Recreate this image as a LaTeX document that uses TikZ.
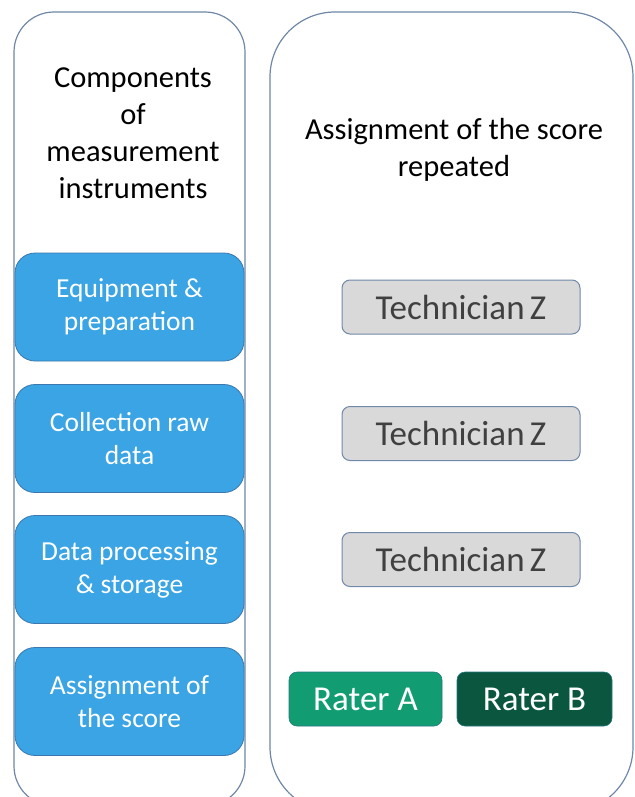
\documentclass[tikz,border=0pt]{standalone}
\usepackage{fontspec}
\setmainfont{Carlito}
\definecolor{framec}{RGB}{112,136,166}
\definecolor{blfill}{RGB}{58,164,228}
\definecolor{blline}{RGB}{60,120,175}
\definecolor{tfill}{RGB}{217,217,217}
\definecolor{tline}{RGB}{112,136,170}
\definecolor{ttext}{RGB}{64,64,64}
\definecolor{rafill}{RGB}{18,156,113}
\definecolor{rbfill}{RGB}{10,86,63}
\definecolor{raline}{RGB}{40,120,130}
\tikzset{
  container/.style={draw=framec, line width=1.2pt, fill=white, inner sep=0pt},
  titletext/.style={align=center, font=\fontsize{30.5}{37}\selectfont, text=black, inner sep=0pt},
  bluebox/.style={draw=blline, line width=0.8pt, fill=blfill, rounded corners=20pt,
    minimum width=229pt, minimum height=108pt, inner sep=0pt, align=center,
    text=white, font=\fontsize{27.5}{33}\selectfont},
  techbox/.style={draw=tline, line width=1pt, fill=tfill, rounded corners=8pt,
    minimum width=238pt, minimum height=54pt, inner sep=0pt,
    text=ttext, font=\fontsize{35}{40}\selectfont},
  raterbox/.style={draw=raline, line width=0.6pt, rounded corners=8pt,
    minimum height=54pt, inner sep=0pt,
    text=white, font=\fontsize{35}{40}\selectfont}
}
\begin{document}
\begin{tikzpicture}[x=1pt,y=-1pt]
\useasboundingbox (0,0) rectangle (634,797);
\clip (0,0) rectangle (634,797);
\fill[white] (0,0) rectangle (634,797);
% containers
\node[container, rounded corners=40pt, minimum width=231pt, minimum height=794pt] (leftc) at (129.5,409) {};
\node[container, rounded corners=65pt, minimum width=363pt, minimum height=800pt] (rightc) at (451.5,412) {};
% titles
\node[titletext] (lt) at (133,133) {Components\\of\\measurement\\instruments};
\node[titletext] (rt) at (454,150) {Assignment of the score\\repeated};
% blue boxes
\node[bluebox] (b1) at (129.5,307) {Equipment \&\\preparation};
\node[bluebox] (b2) at (129.5,438.5) {Collection raw\\data};
\node[bluebox] (b3) at (129.5,569.5) {Data processing\\\& storage};
\node[bluebox] (b4) at (129.5,701.5) {Assignment of\\the score};
% technician boxes
\node[techbox] (t1) at (461,307) {Technician\kern0.15em Z};
\node[techbox] (t2) at (461,433.5) {Technician\kern0.15em Z};
\node[techbox] (t3) at (461,559.5) {Technician\kern0.15em Z};
% raters
\node[raterbox, fill=rafill, minimum width=153pt] (ra) at (365.5,699) {Rater A};
\node[raterbox, fill=rbfill, minimum width=155pt] (rb) at (534.5,699) {Rater B};
\end{tikzpicture}
\end{document}
